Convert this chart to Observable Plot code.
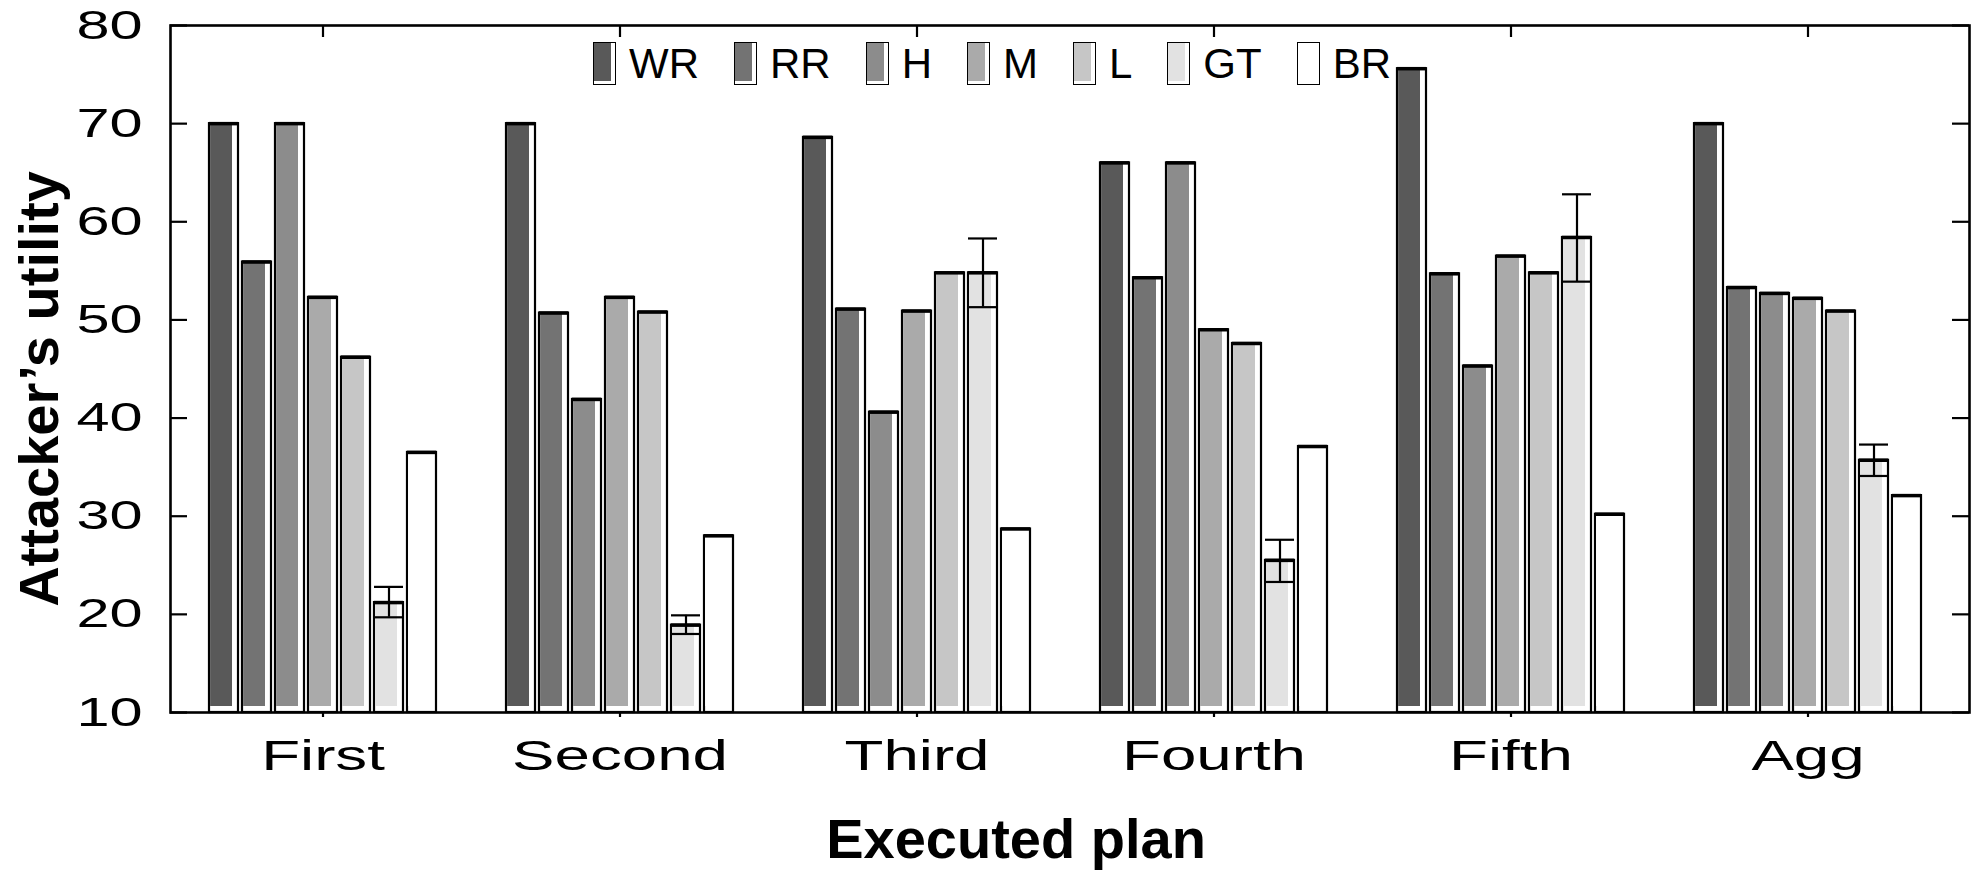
<!DOCTYPE html>
<html><head><meta charset="utf-8">
<script src="https://cdn.jsdelivr.net/npm/d3@7"></script>
<script src="https://cdn.jsdelivr.net/npm/@observablehq/plot@0.6"></script>
<style>
body{margin:0;background:#fff;font-family:"Liberation Sans",Arial,sans-serif;}
#wrap{position:relative;width:1972px;height:872px;overflow:hidden;}
#legend{position:absolute;left:593px;top:42px;display:flex;align-items:center;gap:35px;}
.item{display:flex;align-items:center;gap:13px;}
.sw{width:23px;height:43px;box-sizing:border-box;border:1.5px solid #000;background:#fff;position:relative;}
.sw span{position:absolute;left:0;top:0;right:4px;bottom:3px;}
.lb{font-size:42px;line-height:1;color:#000;}
</style></head><body>
<div id="wrap"><div id="legend"></div></div>
<script>
const plans = ["First","Second","Third","Fourth","Fifth","Agg"];
const series = ["WR","RR","H","M","L","GT","BR"];
const WR = [70, 70, 68.6, 66, 75.6, 70];
const RR = [55.9, 50.7, 51.1, 54.3, 54.7, 53.3];
const H  = [70, 41.9, 40.6, 66, 45.3, 52.7];
const M  = [52.3, 52.3, 50.9, 49, 56.5, 52.2];
const L  = [46.2, 50.8, 54.8, 47.6, 54.8, 50.9];
const GT = [21.2, 18.9, 54.8, 25.5, 58.4, 35.7];
const BR = [36.5, 28, 28.7, 37.1, 30.2, 32.1];
const gtLow  = [19.7, 18.0, 51.3, 23.3, 53.9, 34.1];
const gtHigh = [22.8, 19.9, 58.3, 27.6, 62.8, 37.3];
const yTicks = [10, 20, 30, 40, 50, 60, 70, 80];
const shades = ["#595959","#737373","#8c8c8c","#aaaaaa","#c6c6c6","#e2e2e2","#ffffff"];

const values = [WR, RR, H, M, L, GT, BR];
const data = plans.flatMap((p, i) => series.map((s, j) => ({plan: p, series: s, key: p + "|" + s, value: values[j][i]})));
const errData = plans.map((p, i) => ({key: p + "|GT", lo: gtLow[i], hi: gtHigh[i]}));
const xDomain = plans.flatMap(p => [p + "|<", ...series.map(s => p + "|" + s), p + "|>"]);
const centerKeys = plans.map(p => p + "|M");

const W = 1972, Hh = 872, mL = 170, mR = 3, mT = 25, mB = 160;
const plotW = W - mL - mR, plotH = Hh - mT - mB;

const chart = Plot.plot({
  width: W, height: Hh,
  marginLeft: mL, marginRight: mR, marginTop: mT, marginBottom: mB,
  style: {fontFamily: "Liberation Sans, Arial, sans-serif", fontSize: "42px", color: "#000", background: "#fff"},
  x: {type: "band", domain: xDomain, paddingInner: 0.13, paddingOuter: 0.085, align: 0.3, axis: null},
  y: {domain: [10, 80], axis: null},
  color: {domain: series, range: shades},
  marks: [
    Plot.barY(data, {x: "key", y1: 10, y2: "value", fill: "white", stroke: "black", strokeWidth: 2.2}),
    Plot.barY(data, {x: "key", y1: 10, y2: "value", fill: "series", insetLeft: 1.1, insetRight: 6, insetTop: 1.5, insetBottom: 6}),
    Plot.tickY(data, {x: "key", y: "value", stroke: "black", strokeWidth: 3.5}),
    Plot.ruleX(errData, {x: "key", y1: "lo", y2: "hi", stroke: "black", strokeWidth: 2.2}),
    Plot.tickY(errData, {x: "key", y: "lo", stroke: "black", strokeWidth: 2.2}),
    Plot.tickY(errData, {x: "key", y: "hi", stroke: "black", strokeWidth: 2.2}),
    Plot.ruleY(yTicks, {y: d => d, insetRight: plotW - 17, stroke: "black", strokeWidth: 2.2}),
    Plot.ruleY(yTicks, {y: d => d, insetLeft: plotW - 17, stroke: "black", strokeWidth: 2.2}),
    Plot.ruleX(centerKeys, {x: d => d, insetBottom: plotH - 12, stroke: "black", strokeWidth: 2.2}),
    Plot.frame({stroke: "black", strokeWidth: 2.6}),
    Plot.axisY({ticks: yTicks, tickSize: 0, tickPadding: 28, fontSize: 41, label: null}),
    Plot.axisX({anchor: "bottom", ticks: centerKeys, tickFormat: d => d.split("|")[0], tickSize: 5, tickPadding: 22, fontSize: 43, strokeWidth: 2.2, label: null}),
    Plot.text(["Attacker’s utility"], {frameAnchor: "left", textAnchor: "middle", rotate: -90, dx: -130, dy: 20, fontSize: 56, fontWeight: "bold", ariaLabel: "ylabel"}),
    Plot.text(["Executed plan"], {frameAnchor: "bottom", textAnchor: "middle", dx: -54, dy: 145, fontSize: 56, fontWeight: "bold", ariaLabel: "xlabel"})
  ]
});

const wrap = document.getElementById("wrap");
wrap.insertBefore(chart, wrap.firstChild);

// horizontally stretched lettering as in the reference, keeping each label's anchor
function stretch(sel, opts) {
  chart.querySelectorAll(sel).forEach(t => {
    const b0 = t.getBBox();
    const len = t.getComputedTextLength();
    const target = opts.length != null ? opts.length : len * opts.factor;
    t.setAttribute("textLength", target);
    t.setAttribute("lengthAdjust", "spacingAndGlyphs");
    const b1 = t.getBBox();
    let delta;
    if (opts.anchor === "end") delta = (b0.x + b0.width) - (b1.x + b1.width);
    else delta = (b0.x + b0.width / 2) - (b1.x + b1.width / 2);
    if (Math.abs(delta) > 0.1) t.setAttribute("transform", (t.getAttribute("transform") || "") + ` translate(${delta},0)`);
  });
}
stretch('g[aria-label="x-axis tick label"] text', {factor: 1.48, anchor: "middle"});
stretch('g[aria-label="y-axis tick label"] text', {factor: 1.45, anchor: "end"});
stretch('g[aria-label="ylabel"] text', {length: 449, anchor: "middle"});
stretch('g[aria-label="xlabel"] text', {length: 359, anchor: "middle"});

const legend = document.getElementById("legend");
series.forEach((s, j) => {
  const item = document.createElement("div");
  item.className = "item";
  const sw = document.createElement("div");
  sw.className = "sw";
  const inner = document.createElement("span");
  inner.style.background = shades[j];
  sw.appendChild(inner);
  const lb = document.createElement("div");
  lb.className = "lb";
  lb.textContent = s;
  item.appendChild(sw);
  item.appendChild(lb);
  legend.appendChild(item);
});
</script>
</body></html>
